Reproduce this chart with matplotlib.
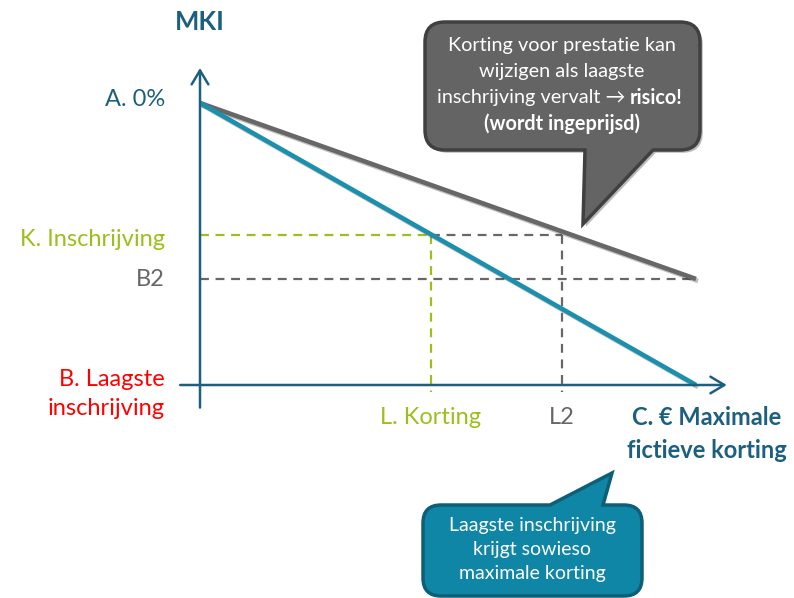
import numpy as np
import matplotlib.pyplot as plt
from matplotlib.path import Path
from matplotlib.patches import PathPatch
import matplotlib.patheffects as pe

# discount axis: 0 = no discount, 1 = C (maximum fictive discount)
# MKI axis: 1 = A (0%), 0 = B (lowest bid)
discount = [0.0, 1.0]
mki_lowest = [1.0, 0.0]
b2_level = 0.376
mki_second = [1.0, b2_level]
k_level = 0.532
l_korting = 0.465
l2 = 0.73

TEAL = '#1c5f80'
BLUE = '#1b8fae'
GREY = '#676767'
GREEN = '#9cbf1b'
RED = '#ff0000'

plt.rcParams['font.family'] = ['Lato', 'DejaVu Sans']

fig = plt.figure(figsize=(7.94, 5.98), dpi=100)
ax = fig.add_axes([0, 0, 1, 1])
# origin of the diagram at pixel (200, 385); 496 px per x unit, 282 px per y unit
X0, Y0, SX, SY = 200, 385, 496, 282
ax.set_xlim(-X0 / SX, (794 - X0) / SX)
ax.set_ylim(-(598 - Y0) / SY, Y0 / SY)
ax.axis('off')


def px(x, y):
    return (x - X0) / SX, (Y0 - y) / SY


# axes with open arrow heads
head = '->,head_length=1.0,head_width=0.6'
ax.annotate('', xy=(0, 1.124), xytext=(0, -0.08),
            arrowprops=dict(arrowstyle=head, color=TEAL, lw=1.8, shrinkA=0, shrinkB=0))
ax.annotate('', xy=(1.062, 0), xytext=(-0.04, 0),
            arrowprops=dict(arrowstyle=head, color=TEAL, lw=1.8, shrinkA=0, shrinkB=0))

dash = (0, (4, 3))
ax.plot([0, l_korting], [k_level, k_level], color=GREEN, lw=1.6, ls=dash)
ax.plot([l_korting, l_korting], [k_level, -0.025], color=GREEN, lw=1.6, ls=dash)
ax.plot([l_korting, l2], [k_level, k_level], color=GREY, lw=1.6, ls=dash)
ax.plot([l2, l2], [k_level, -0.025], color=GREY, lw=1.6, ls=dash)
ax.plot([0, discount[1]], [b2_level, b2_level], color=GREY, lw=1.6, ls=dash)

shadow = [pe.SimpleLineShadow(offset=(1.5, -1.5), alpha=0.25), pe.Normal()]
ax.plot(discount, mki_second, color=GREY, lw=3.3, solid_capstyle='butt', path_effects=shadow)
ax.plot(discount, mki_lowest, color=BLUE, lw=3.3, solid_capstyle='butt', path_effects=shadow)

# labels
fs = 17
lx = px(165, 0)[0]
ax.text(0, px(0, 22)[1], 'MKI', color=TEAL, fontsize=18.5, fontweight='bold', ha='center', va='center')
ax.text(lx, px(0, 100)[1], 'A. 0%', color=TEAL, fontsize=fs, ha='right', va='center')
ax.text(lx, px(0, 240)[1], 'K. Inschrijving', color=GREEN, fontsize=fs, ha='right', va='center')
ax.text(lx, px(0, 280)[1], 'B2', color=GREY, fontsize=fs, ha='right', va='center')
ax.text(lx, px(0, 394)[1], 'B. Laagste\ninschrijving', color=RED, fontsize=fs, ha='right', va='center',
        linespacing=1.5)
ax.text(l_korting, px(0, 418)[1], 'L. Korting', color=GREEN, fontsize=fs, ha='center', va='center')
ax.text(l2, px(0, 418)[1], 'L2', color=GREY, fontsize=fs, ha='center', va='center')
ax.text(px(707, 0)[0], px(0, 434)[1], 'C. € Maximale\nfictieve korting', color=TEAL, fontsize=fs,
        fontweight='bold', ha='center', va='center', linespacing=1.5)


def callout(x0, y0, x1, y1, r, base0, base1, tip, tail_bottom=True):
    # rounded box with a pointed tail, pixel coords (y down)
    pts = []
    codes = []

    def move(p):
        pts.append(px(*p)); codes.append(Path.MOVETO)

    def line(p):
        pts.append(px(*p)); codes.append(Path.LINETO)

    def corner(c, p):
        pts.append(px(*c)); codes.append(Path.CURVE3)
        pts.append(px(*p)); codes.append(Path.CURVE3)

    move((x0 + r, y0))
    if not tail_bottom:
        line((base0, y0)); line(tip); line((base1, y0))
    line((x1 - r, y0))
    corner((x1, y0), (x1, y0 + r))
    line((x1, y1 - r))
    corner((x1, y1), (x1 - r, y1))
    if tail_bottom:
        line((base1, y1)); line(tip); line((base0, y1))
    line((x0 + r, y1))
    corner((x0, y1), (x0, y1 - r))
    line((x0, y0 + r))
    corner((x0, y0), (x0 + r, y0))
    codes.append(Path.CLOSEPOLY); pts.append(px(x0 + r, y0))
    return Path(pts, codes)


grey_box = PathPatch(callout(425, 22, 700, 150, 20, 585, 653, (583, 224)),
                     facecolor='#646464', edgecolor='#404040', lw=2.5, zorder=5,
                     path_effects=[pe.SimplePatchShadow(offset=(2, -2), alpha=0.3), pe.Normal()])
ax.add_patch(grey_box)
cx = px(562, 0)[0]
tfs = 14.3
ax.text(cx, px(0, 46)[1], 'Korting voor prestatie kan', color='white', fontsize=tfs,
        ha='center', va='center', zorder=6)
ax.text(cx, px(0, 72)[1], 'wijzigen als laagste', color='white', fontsize=tfs,
        ha='center', va='center', zorder=6)
ax.text(px(625, 0)[0], px(0, 98)[1], 'inschrijving vervalt \u2192', color='white', fontsize=tfs,
        ha='right', va='center', zorder=6)
ax.text(px(630, 0)[0], px(0, 98)[1], 'risico!', color='white', fontsize=tfs, fontweight='bold',
        ha='left', va='center', zorder=6)
ax.text(cx, px(0, 124)[1], '(wordt ingeprijsd)', color='white', fontsize=tfs, fontweight='bold',
        ha='center', va='center', zorder=6)

blue_box = PathPatch(callout(423, 505, 642, 596, 18, 550, 603, (612, 473), tail_bottom=False),
                     facecolor='#0f86a5', edgecolor='#0d5f78', lw=2.5, zorder=5)
ax.add_patch(blue_box)
ax.text(px(532, 0)[0], px(0, 549)[1], 'Laagste inschrijving\nkrijgt sowieso\nmaximale korting',
        color='white', fontsize=14, ha='center', va='center', zorder=6, linespacing=1.5)

fig.savefig('out.png', dpi=100)
